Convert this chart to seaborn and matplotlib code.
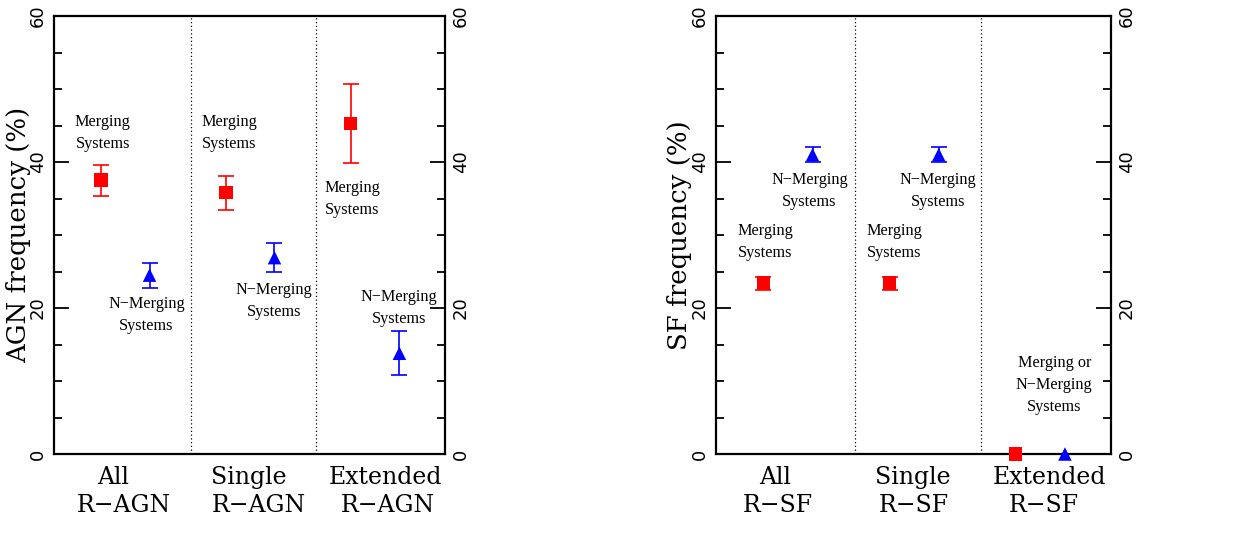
import numpy as np
import pandas as pd
import matplotlib
matplotlib.use("Agg")
import matplotlib.pyplot as plt
import seaborn as sns
from matplotlib.ticker import MultipleLocator

# ---------------- data ----------------
groups = ["All", "Single", "Extended"]
agn_labels_bottom = ["R\u2212AGN", "R\u2212AGN", "R\u2212AGN"]
sf_labels_bottom = ["R\u2212SF", "R\u2212SF", "R\u2212SF"]

agn_merging = [37.5, 35.8, 45.3]
agn_merging_err = [2.15, 2.35, 5.45]
agn_nonmerging = [24.5, 26.9, 13.8]
agn_nonmerging_err = [1.7, 2.0, 3.0]

sf_merging = [23.4, 23.4, 0.0]
sf_merging_err = [0.87, 0.87, 0.0]
sf_nonmerging = [41.0, 41.0, 0.0]
sf_nonmerging_err = [1.05, 1.05, 0.0]

kinds = ["Merging", "N-Merging"]
colors = {"Merging": "#ff0000", "N-Merging": "#0000ff"}
markers = {"Merging": "s", "N-Merging": "^"}
offsets = {"Merging": 0.375, "N-Merging": 0.765}

agn_df = pd.DataFrame({
    "group": list(range(3)) * 2,
    "kind": ["Merging"] * 3 + ["N-Merging"] * 3,
    "freq": agn_merging + agn_nonmerging,
    "err": agn_merging_err + agn_nonmerging_err,
})
sf_df = pd.DataFrame({
    "group": list(range(3)) * 2,
    "kind": ["Merging"] * 3 + ["N-Merging"] * 3,
    "freq": sf_merging + sf_nonmerging,
    "err": sf_merging_err + sf_nonmerging_err,
})
for d in (agn_df, sf_df):
    d["x"] = d["group"] + d["kind"].map(offsets)

# annotation texts (x, y, text)
agn_notes = [
    (0.39, 44.0, "Merging\nSystems"),
    (0.74, 19.0, "N\u2212Merging\nSystems"),
    (1.40, 44.0, "Merging\nSystems"),
    (1.76, 21.0, "N\u2212Merging\nSystems"),
    (2.39, 35.0, "Merging\nSystems"),
    (2.76, 20.0, "N\u2212Merging\nSystems"),
]
sf_notes = [
    (0.39, 29.0, "Merging\nSystems"),
    (0.74, 36.0, "N\u2212Merging\nSystems"),
    (1.41, 29.0, "Merging\nSystems"),
    (1.76, 36.0, "N\u2212Merging\nSystems"),
    (2.68, 9.5, "Merging or\nN\u2212Merging\nSystems"),
]

sns.set_style("ticks")
plt.rcParams["font.family"] = ["DejaVu Serif", "DejaVu Sans"]
plt.rcParams["text.color"] = "black"
plt.rcParams["axes.labelcolor"] = "black"
plt.rcParams["xtick.color"] = "black"
plt.rcParams["ytick.color"] = "black"
plt.rcParams["axes.edgecolor"] = "black"

fig = plt.figure(figsize=(12.34, 5.54), dpi=100)
ax1 = fig.add_axes([54 / 1234, 100 / 554, 391 / 1234, 438 / 554])
ax2 = fig.add_axes([716 / 1234, 100 / 554, 395 / 1234, 438 / 554])

XMAX = 3.13


def draw(ax, df, notes, ylabel, bottoms, top_x, bot_x, ylab_x):
    for k in kinds:
        sub = df[(df["kind"] == k) & (df["err"] > 0)]
        ax.errorbar(sub["x"], sub["freq"], yerr=sub["err"], fmt="none",
                    ecolor=colors[k], elinewidth=1.2, capsize=6, capthick=1.2,
                    zorder=3)
    sns.scatterplot(data=df, x="x", y="freq", hue="kind", style="kind",
                    palette=colors, markers=markers, s=95, linewidth=0,
                    legend=False, ax=ax, zorder=5, clip_on=False)
    ax.set_xlim(0, XMAX)
    ax.set_ylim(0, 60)
    for xv in (1.1, 2.1):
        ax.axvline(xv, color="black", lw=0.9, ls=(0, (1, 2)), zorder=1)
    for x, y, t in notes:
        ax.text(x, y, t, ha="center", va="center", fontsize=11.7,
                linespacing=1.5, family=["Liberation Serif", "DejaVu Serif"],
                color="black")
    for i, g in enumerate(groups):
        ax.text(top_x[i], -0.053, g, transform=ax.get_xaxis_transform(),
                ha="center", va="center", fontsize=17, family="DejaVu Serif",
                color="black")
        ax.text(bot_x[i], -0.118, bottoms[i], transform=ax.get_xaxis_transform(),
                ha="center", va="center", fontsize=17, family="DejaVu Serif",
                color="black")
    ax.set_xlabel("")
    ax.set_xticks([])
    ax.set_ylabel(ylabel, fontsize=18.7, family="DejaVu Serif", va="center",
                  color="black")
    ax.yaxis.set_label_coords(ylab_x, 0.5)
    ax.yaxis.set_major_locator(MultipleLocator(20))
    ax.yaxis.set_minor_locator(MultipleLocator(5))
    ax.tick_params(axis="y", which="both", direction="in", left=True, right=True,
                   labelleft=True, labelright=True, labelrotation=90,
                   width=1.3, pad=5, labelsize=13, colors="black")
    ax.tick_params(axis="y", which="major", length=11)
    ax.tick_params(axis="y", which="minor", length=6)
    for lab in ax.get_yticklabels():
        lab.set_family("DejaVu Sans")
        lab.set_va("center")
    for s in ax.spines.values():
        s.set_visible(True)
        s.set_linewidth(1.6)
        s.set_color("black")
    ax.set_facecolor("white")


draw(ax1, agn_df, agn_notes, "AGN frequency (%)", agn_labels_bottom,
     [0.47, 1.56, 2.65], [0.56, 1.64, 2.67], -0.09)
draw(ax2, sf_df, sf_notes, "SF frequency (%)", sf_labels_bottom,
     [0.47, 1.56, 2.64], [0.49, 1.565, 2.60], -0.093)

fig.savefig("out.png", dpi=100, facecolor="white")
